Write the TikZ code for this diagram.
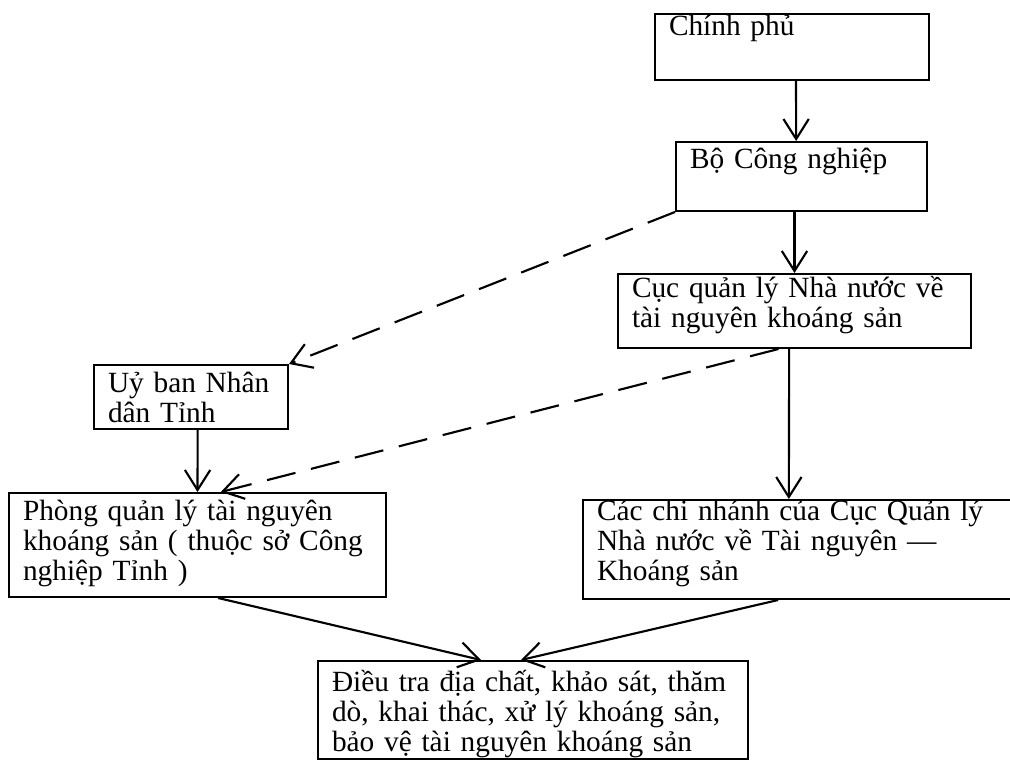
\documentclass[tikz,border=0pt]{standalone}
\usepackage{fontspec}
\setmainfont{Liberation Serif}
\usepackage{tikz}
\usetikzlibrary{arrows.meta}
\tikzset{
  orgbox/.style={draw, line width=1.5pt, anchor=north west, align=left,
    inner xsep=10.5pt, inner ysep=0pt, font=\fontsize{22}{22.5}\selectfont},
  arr/.style={line width=1.6pt, -{Straight Barb[length=15pt, width=19pt]}},
  dasharr/.style={arr, dash pattern=on 22pt off 12pt},
}

\begin{document}
\begin{tikzpicture}[x=0.75pt, y=-0.75pt]
\useasboundingbox (0,0) rectangle (1010,762);
\node[orgbox, text width=184.5pt, text height=16.5pt, text depth=33pt] (chinhphu) at (654,13) {Chính phủ};
\node[orgbox, text width=167.25pt, text height=20.25pt, text depth=31.5pt] (bocn) at (675,141) {Bộ Công nghiệp};
\node[orgbox, text width=243.75pt, text height=18pt, text depth=37.5pt] (cuc) at (617,273) {Cục quản lý Nhà nước về\\tài nguyên khoáng sản};
\node[orgbox, text width=124.5pt, text height=21pt, text depth=27pt] (uyban) at (93,364) {Uỷ ban Nhân\\dân Tỉnh};
\node[orgbox, text width=261.75pt, text height=21pt, text depth=57pt] (phong) at (8,492) {Phòng quản lý tài nguyên\\khoáng sản ( thuộc sở Công\\nghiệp Tỉnh )};
\node[orgbox, text width=303.75pt, text height=15.75pt, text depth=58.5pt] (chinhanh) at (582,499) {Các chi nhánh của Cục Quản lý\\Nhà nước về Tài nguyên ---\\Khoáng sản};
\node[orgbox, text width=301.5pt, text height=22.5pt, text depth=51pt] (dieutra) at (317,660) {Điều tra địa chất, khảo sát, thăm\\dò, khai thác, xử lý khoáng sản,\\bảo vệ tài nguyên khoáng sản};

\draw[arr] ([xshift=3pt]chinhphu.south) -- ([xshift=-4pt]bocn.north);
\draw[arr] (bocn.south -| cuc.north) -- (cuc.north);
\draw[arr] ([xshift=-4pt]cuc.south) -- ([xshift=-8pt]chinhanh.north);
\draw[arr] ([xshift=5pt]uyban.south) -- (phong.north);
\draw[dasharr] (bocn.south west) -- (uyban.north east);
\draw[dasharr] ([xshift=-12pt]cuc.south) -- ([xshift=17.5pt]phong.north);
\draw[arr] ([xshift=15.5pt]phong.south) -- ([xshift=-39pt]dieutra.north);
\draw[arr] ([xshift=-16pt]chinhanh.south) -- ([xshift=-9pt]dieutra.north);
\end{tikzpicture}
\end{document}
